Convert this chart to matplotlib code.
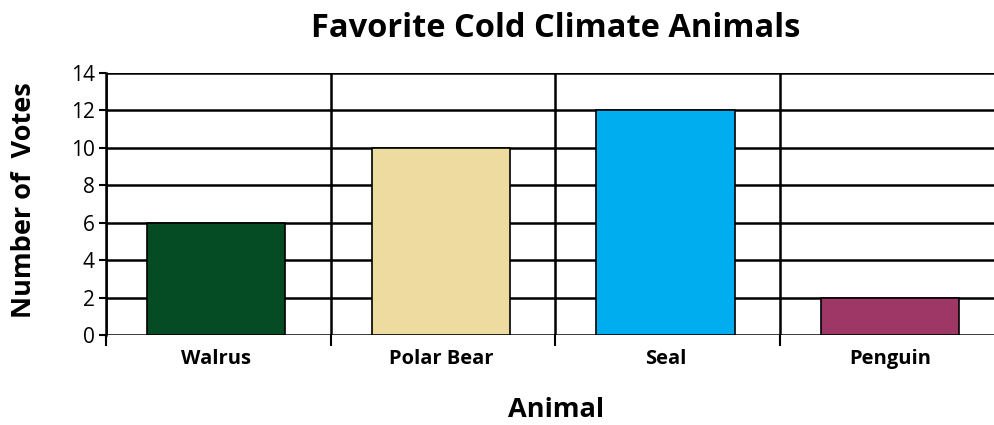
import numpy as np
import matplotlib.pyplot as plt

animals = ["Walrus", "Polar Bear", "Seal", "Penguin"]
votes = [6, 10, 12, 2]
colors = ["#054C24", "#EEDBA0", "#00AEEF", "#9E3766"]
yticks = [0, 2, 4, 6, 8, 10, 12, 14]

plt.rcParams['font.family'] = ['Open Sans', 'DejaVu Sans']

fig = plt.figure(figsize=(9.95, 4.25), dpi=100)
ax = fig.add_axes([0.1065, 0.2118, 0.8935, 0.6165])

x = np.arange(len(animals)) + 0.49
ax.bar(x, votes, width=0.615, color=colors, edgecolor="black", linewidth=1.2, zorder=3)

ax.set_xlim(0, 3.956)
ax.set_ylim(0, 14)
ax.set_yticks(yticks)
ax.set_yticklabels([str(v) for v in yticks], fontsize=15)

# category boundaries as major ticks, names on minor ticks
ax.set_xticks([0, 1, 2, 3])
ax.set_xticklabels([])
ax.set_xticks(x, minor=True)
ax.set_xticklabels(animals, minor=True, fontsize=14.5, fontweight="bold")
ax.tick_params(axis="x", which="major", length=8, width=1.5, direction="out", color="black")
ax.tick_params(axis="x", which="minor", length=0, pad=10)
ax.tick_params(axis="y", length=5, width=1.5, pad=3)

ax.grid(True, axis="both", which="major", color="black", linewidth=1.8, zorder=1)
ax.set_axisbelow(True)
for s in ["top", "right", "bottom"]:
    ax.spines[s].set_visible(False)
ax.spines["left"].set_linewidth(1.8)
ax.spines["left"].set_zorder(2)

fig.text(0.024, 0.53, "Number of  Votes", rotation=90, ha="center", va="center",
         fontsize=19.5, fontweight="bold")
fig.text(0.559, 0.036, "Animal", ha="center", va="center",
         fontsize=19.5, fontweight="bold")
fig.text(0.558, 0.934, "Favorite Cold Climate Animals", ha="center", va="center",
         fontsize=23.5, fontweight="bold")

fig.savefig("out.png", dpi=100)
